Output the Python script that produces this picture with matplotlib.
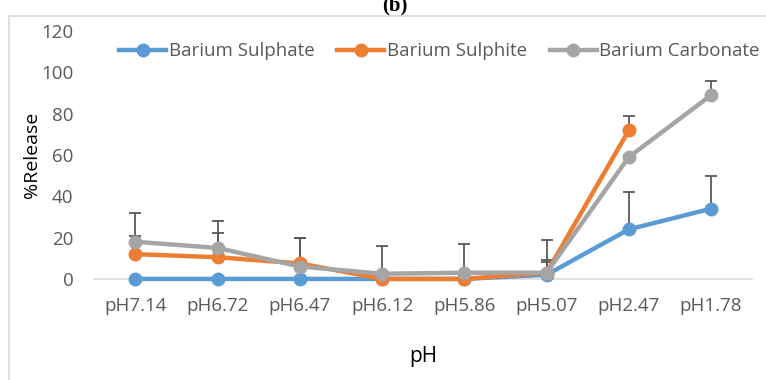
import matplotlib.pyplot as plt
from matplotlib.patches import Rectangle
import numpy as np

categories = ["pH7.14", "pH6.72", "pH6.47", "pH6.12", "pH5.86", "pH5.07", "pH2.47", "pH1.78"]

sulphate = [0, 0, 0, 0, 0, 2, 24, 34]
sulphite = [12, 10.5, 7.5, 0, 0, 3, 72, np.nan]
carbonate = [18, 15, 6, 2.5, 3, 3, 59, 89]

sulphate_err = [0, 0, 0, 0, 0, 6, 18, 16]
sulphite_err = [9, 11.5, 12.5, 0, 0, 6, 7, 0]
carbonate_err = [14, 13, 14, 13.5, 14, 16, 0, 7]

series = [
    ("Barium Sulphate", sulphate, sulphate_err, "#5B9BD5"),
    ("Barium Sulphite", sulphite, sulphite_err, "#ED7D31"),
    ("Barium Carbonate", carbonate, carbonate_err, "#A5A5A5"),
]

plt.rcParams["font.family"] = ["Open Sans", "DejaVu Sans"]

fig = plt.figure(figsize=(7.66, 3.8), dpi=100)
ax = fig.add_axes([0.123, 0.266, 0.859, 0.652])

x = np.arange(len(categories))
for name, vals, err, color in series:
    vals = np.array(vals, dtype=float)
    err = np.array(err, dtype=float)
    ax.errorbar(x, vals, yerr=[np.zeros_like(err), err], fmt="none",
                ecolor="#595959", elinewidth=1.3, capsize=4, capthick=1.3,
                zorder=2, clip_on=False)
for name, vals, err, color in series:
    ax.plot(x, vals, color=color, lw=3.2, marker="o", ms=9, label=name,
            zorder=3, clip_on=False)

ax.set_xlim(-0.5, len(categories) - 0.5)
ax.set_ylim(0, 120)
ax.set_yticks(range(0, 121, 20))
ax.set_xticks(x)
ax.set_xticklabels(categories)
for s in ["top", "right", "left"]:
    ax.spines[s].set_visible(False)
ax.spines["bottom"].set_color("#D9D9D9")
ax.spines["bottom"].set_linewidth(1.2)
ax.spines["bottom"].set_zorder(1)
ax.tick_params(axis="both", length=0, labelsize=13.5, colors="#595959")
ax.tick_params(axis="x", pad=13)
ax.tick_params(axis="y", pad=15)

ax.set_ylabel("%Release", fontsize=14, color="black", labelpad=0)
ax.set_xlabel("pH", fontsize=15, color="black", labelpad=22)

ax.legend(loc="upper center", bbox_to_anchor=(0.525, 1.0), ncol=3, frameon=False,
          fontsize=13.5, labelcolor="#595959", handlelength=2.5,
          handletextpad=0.15, columnspacing=1.2, borderaxespad=0.2)

fig.patches.append(Rectangle((9 / 766, -0.01), 1.0, 1 - 16 / 380 + 0.01,
                             transform=fig.transFigure, fill=False,
                             edgecolor="#D9D9D9", lw=1.2))
fig.text(0.515, 0.985, "(b)", ha="center", va="center", fontsize=15,
         fontweight="bold", family=["Liberation Serif", "DejaVu Serif"])

fig.savefig("out.png", dpi=100)
